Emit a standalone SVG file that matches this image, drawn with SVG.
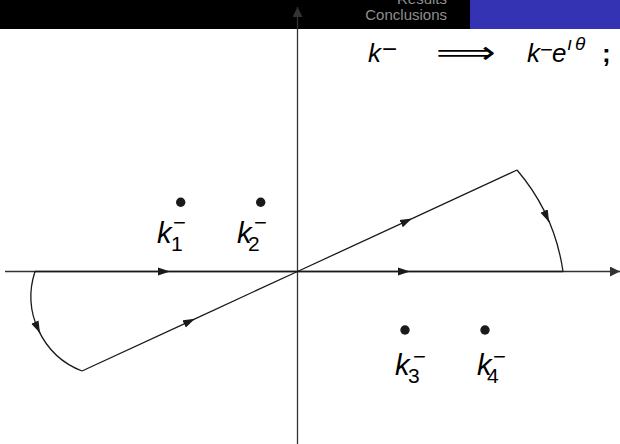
<svg xmlns="http://www.w3.org/2000/svg" width="620" height="444" viewBox="0 0 620 444">
<style>
.ln{fill:none;stroke:#1a1a1a;stroke-width:1.3}
.ax{fill:none;stroke:#333;stroke-width:1.3}
.m{font-family:"Liberation Sans",Arial,sans-serif;font-style:italic;fill:#000}
.n{font-family:"Liberation Sans",Arial,sans-serif;font-style:normal;fill:#000}
.hd{font-family:"Liberation Sans",Arial,sans-serif;font-size:15px;fill:#8f8f8f}
.dot{fill:#1a1a1a}
</style>
<defs>
<marker id="arr" markerUnits="userSpaceOnUse" markerWidth="12" markerHeight="9" refX="12" refY="4.5" orient="auto"><path d="M0,0.5 L12,4.5 L0,8.5 z" fill="#1a1a1a"/></marker>
<marker id="axh" markerUnits="userSpaceOnUse" markerWidth="11" markerHeight="11" refX="10" refY="5" orient="auto"><path d="M0,0 L10,5 L0,10 z" fill="#333"/></marker>
</defs>
<g id="header">
<rect x="0" y="0" width="470" height="29" fill="#000"/>
<rect x="470" y="0" width="150" height="29" fill="#3333b3"/>
<text class="hd" x="447" y="4" text-anchor="end">Results</text>
<text class="hd" x="447" y="20" text-anchor="end">Conclusions</text>
</g>
<g id="axes">
<path class="ax" d="M297.5,444 L297.5,7" marker-end="url(#axh)"/>
<path class="ax" d="M5,271.5 L620,271.5" marker-end="url(#axh)"/>
</g>
<g id="connectors">
<path class="ln" d="M35,271.5 L170,271.5" marker-end="url(#arr)"/>
<path class="ln" d="M170,271.5 L410,271.5" marker-end="url(#arr)"/>
<path class="ln" d="M410,271.5 L563,271.5"/>
<path class="ln" d="M297.5,271.5 L412,218.6" marker-end="url(#arr)"/>
<path class="ln" d="M412,218.6 L517,170"/>
<path class="ln" d="M517,170 A200,200 0 0 1 563,271.5"/>
<path class="ln" d="M545,213 L549,222" marker-end="url(#arr)"/>
<path class="ln" d="M82,371 L195,318.8" marker-end="url(#arr)"/>
<path class="ln" d="M195,318.8 L297.5,271.5"/>
<path class="ln" d="M35,271.5 A80,80 0 0 0 82,371"/>
<path class="ln" d="M36,324.5 L40,333" marker-end="url(#arr)"/>
</g>
<g id="equation">
<text class="m" font-size="26" x="368" y="62">k<tspan class="n" font-size="26" x="382" y="58">−</tspan></text>
<text font-family="DejaVu Sans,sans-serif" font-size="26" transform="translate(436,63) scale(1.6,1.2)">⟹</text>
<text class="m" font-size="26" x="527" y="62">k<tspan class="n" font-size="22" x="540" y="57">−</tspan><tspan x="552" y="62">e</tspan><tspan font-size="19" x="567" y="50">ı</tspan><tspan font-size="19" x="575" y="50">θ</tspan></text>
<text class="n" font-size="26" font-weight="bold" x="602" y="62">;</text>
</g>
<g id="k1">
<circle class="dot" cx="180.7" cy="202.3" r="4.7"/>
<text class="m" font-size="29" x="157" y="243">k<tspan class="n" font-size="21" x="171" y="251">1</tspan><tspan class="n" font-size="22" x="173" y="230">−</tspan></text>
</g>
<g id="k2">
<circle class="dot" cx="260.7" cy="202.3" r="4.7"/>
<text class="m" font-size="29" x="237" y="243">k<tspan class="n" font-size="21" x="248" y="251">2</tspan><tspan class="n" font-size="22" x="254" y="230">−</tspan></text>
</g>
<g id="k3">
<circle class="dot" cx="405" cy="330" r="4.7"/>
<text class="m" font-size="29" x="395" y="375">k<tspan class="n" font-size="21" x="408" y="383">3</tspan><tspan class="n" font-size="22" x="413" y="364">−</tspan></text>
</g>
<g id="k4">
<circle class="dot" cx="485" cy="330" r="4.7"/>
<text class="m" font-size="29" x="477" y="375">k<tspan class="n" font-size="21" x="487" y="383">4</tspan><tspan class="n" font-size="22" x="493" y="364">−</tspan></text>
</g>
</svg>
